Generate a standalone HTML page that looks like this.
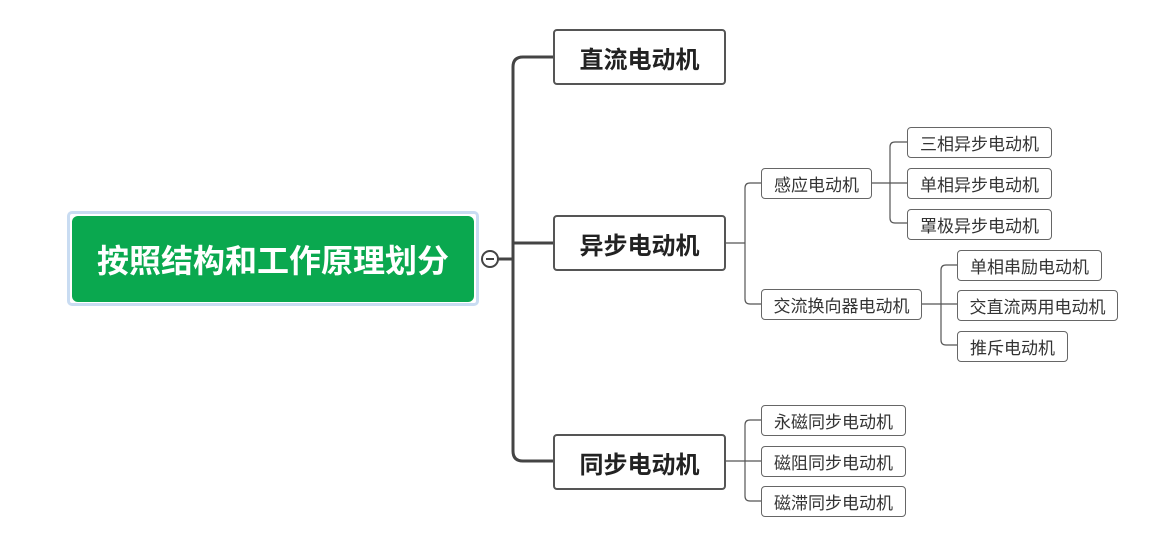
<!DOCTYPE html>
<html><head><meta charset="utf-8"><style>
body{margin:0;width:1149px;height:549px;background:#fff;position:relative;overflow:hidden;font-family:"Liberation Sans","Noto Sans CJK SC",sans-serif}
.b{position:absolute;box-sizing:border-box;display:flex;align-items:center;justify-content:center;background:#fff}
.l1{border:2px solid #555;border-radius:4px;font-size:24px;font-weight:bold;color:#222}
.l2{border:1px solid #666;border-radius:4px;font-size:17px;color:#333}
svg{position:absolute;left:0;top:0}
</style></head><body>
<svg width="1149" height="549">
<g fill="none" stroke="#444" stroke-width="3">
<path d="M482 259 H513"/>
<path d="M553 57 H523 Q513 57 513 67 V451 Q513 461 523 461 H553"/>
<path d="M513 243 H553"/>
</g>
<g fill="none" stroke="#555" stroke-width="1.2">
<path d="M726 243 H745 M761 183 H750 Q745 183 745 188 V299 Q745 304 750 304 H761"/>
<path d="M872 183 H907 M907 142 H895 Q890 142 890 147 V218 Q890 223 895 223 H907"/>
<path d="M922 304 H957 M957 265 H946 Q941 265 941 270 V340 Q941 345 946 345 H957"/>
<path d="M726 461 H761 M761 420 H750 Q745 420 745 425 V496 Q745 501 750 501 H761"/>
</g>
<circle cx="490" cy="259" r="8" fill="#fff" stroke="#444" stroke-width="2"/>
<line x1="486" y1="259" x2="494" y2="259" stroke="#444" stroke-width="2"/>
</svg>
<div class="b" style="left:67px;top:211px;width:412px;height:95px;border:3px solid #c9dcf2;border-radius:5px;background:#fff"></div>
<div class="b" style="left:72px;top:216px;width:402px;height:86px;background:#0aa84f;border-radius:6px;color:#fff;font-size:32px;font-weight:bold">按照结构和工作原理划分</div>
<div class="b l1" style="left:553px;top:29px;width:173px;height:56px">直流电动机</div>
<div class="b l1" style="left:553px;top:215px;width:173px;height:56px">异步电动机</div>
<div class="b l1" style="left:553px;top:434px;width:173px;height:56px">同步电动机</div>
<div class="b l2" style="left:761px;top:168px;width:111px;height:31px">感应电动机</div>
<div class="b l2" style="left:761px;top:289px;width:161px;height:31px">交流换向器电动机</div>
<div class="b l2" style="left:907px;top:127px;width:145px;height:31px">三相异步电动机</div>
<div class="b l2" style="left:907px;top:168px;width:145px;height:31px">单相异步电动机</div>
<div class="b l2" style="left:907px;top:209px;width:145px;height:31px">罩极异步电动机</div>
<div class="b l2" style="left:957px;top:250px;width:145px;height:31px">单相串励电动机</div>
<div class="b l2" style="left:957px;top:290px;width:161px;height:31px">交直流两用电动机</div>
<div class="b l2" style="left:957px;top:331px;width:111px;height:31px">推斥电动机</div>
<div class="b l2" style="left:761px;top:405px;width:145px;height:31px">永磁同步电动机</div>
<div class="b l2" style="left:761px;top:446px;width:145px;height:31px">磁阻同步电动机</div>
<div class="b l2" style="left:761px;top:486px;width:145px;height:31px">磁滞同步电动机</div>
</body></html>
